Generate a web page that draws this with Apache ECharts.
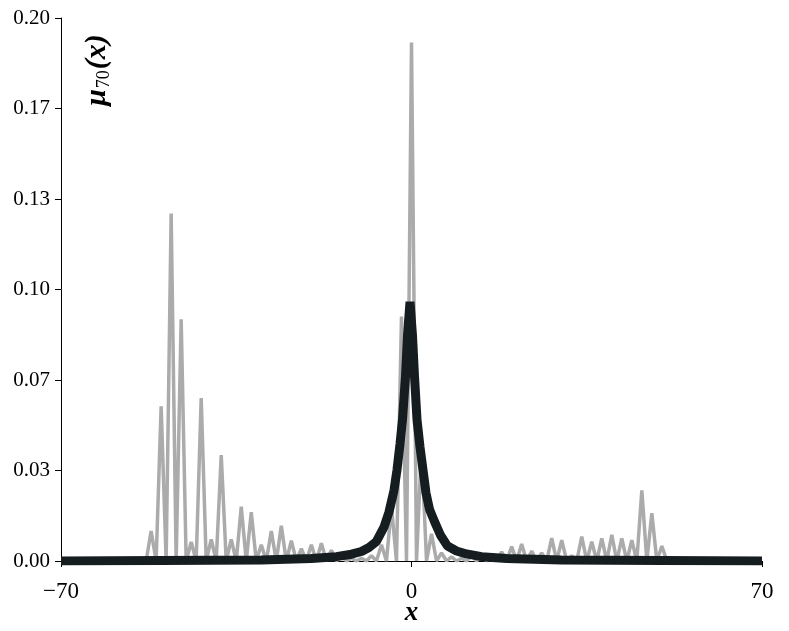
<!DOCTYPE html>
<html>
<head>
<meta charset="utf-8">
<script src="https://cdn.jsdelivr.net/npm/echarts@6/dist/echarts.min.js"></script>
<style>
  html, body { margin: 0; padding: 0; background: #fff; }
  #chart { width: 789px; height: 631px; }
</style>
</head>
<body>
<div id="chart"></div>
<script>
// gray spiky distribution, read at even sites (odd sites are zero)
const graySites = [-54, -52, -50, -48, -46, -44, -42, -40, -38, -36, -34, -32, -30, -28, -26, -24, -22, -20, -18, -16, -14, -12, -10, -8, -6, -4, -2,
  0, 2, 4, 6, 8, 10, 12, 14, 16, 18, 20, 22, 24, 26, 28, 30, 32, 34, 36, 38, 40, 42, 44, 46, 48, 50, 52];
const grayValues = [0, 0.011, 0.057, 0.128, 0.089, 0.007, 0.060, 0.008, 0.039, 0.008, 0.020, 0.018, 0.006, 0.011, 0.013, 0.0075, 0.0045, 0.006, 0.0065, 0.004, 0.002, 0.001, 0.001, 0.002, 0.006, 0.020, 0.090,
  0.191, 0.042, 0.010, 0.003, 0.0015, 0.001, 0.002, 0.002, 0.002, 0.0034, 0.0053, 0.0063, 0.0037, 0.003, 0.0084, 0.0077, 0.002, 0.009, 0.0071, 0.0083, 0.0096, 0.0083, 0.0077, 0.026, 0.0176, 0.0055, 0];

// black smooth curve
const blackX = [-70, -50, -30, -20, -15, -12, -10, -8.5, -7, -5.5, -4.5, -3.5, -2.9, -2.3, -1.8, -1.2, -0.8, -0.3, 0.2, 0.6, 1.1, 1.7, 2.3, 2.9, 3.6, 4.6, 5.8, 7.2, 9, 11, 14, 19, 30, 50, 70];
const blackY = [0, 0.0002, 0.0004, 0.0009, 0.0016, 0.0025, 0.0035, 0.005, 0.0072, 0.0125, 0.018, 0.026, 0.0335, 0.043, 0.052, 0.068, 0.083, 0.0955, 0.083, 0.068, 0.052, 0.042, 0.0335, 0.025, 0.019, 0.0145, 0.0095, 0.0055, 0.0037, 0.0026, 0.0016, 0.0009, 0.0004, 0.0002, 0];

const yTickStep = 0.2 / 6;

// full gray polyline from -70..70, zeros where not listed
const grayData = [];
for (let x = -70; x <= 70; x++) {
  const i = graySites.indexOf(x);
  grayData.push([x, i >= 0 ? grayValues[i] : 0]);
}
const blackData = blackX.map((x, i) => [x, blackY[i]]);

const serif = '"Liberation Serif", "DejaVu Serif", serif';
const chart = echarts.init(document.getElementById('chart'));
chart.setOption({
  animation: false,
  grid: { left: 61, right: 27, top: 18, bottom: 70, outerBoundsMode: 'none', containLabel: false },
  xAxis: {
    type: 'value',
    min: -70, max: 70, interval: 70,
    splitLine: { show: false },
    axisLine: { onZero: false, lineStyle: { color: '#000', width: 1 } },
    axisTick: { length: 6, lineStyle: { color: '#000' } },
    axisLabel: {
      margin: 19, color: '#000', fontFamily: serif, fontSize: 23,
      formatter: v => v < 0 ? '\u2212' + Math.abs(v) : String(v)
    },
    name: 'x', nameLocation: 'middle', nameGap: 39, nameMoveOverlap: false,
    nameTextStyle: { fontFamily: serif, fontSize: 27, fontWeight: 'bold', fontStyle: 'italic', color: '#000' }
  },
  yAxis: {
    type: 'value',
    min: 0, max: 0.2, interval: yTickStep,
    splitLine: { show: false },
    axisLine: { show: true, onZero: false, lineStyle: { color: '#000', width: 1 } },
    axisTick: { show: true, length: 6, lineStyle: { color: '#000' } },
    axisLabel: {
      margin: 11, color: '#000', fontFamily: serif, fontSize: 21,
      formatter: v => v.toFixed(2)
    }
  },
  graphic: [{
    type: 'text',
    x: 97, y: 70,
    rotation: Math.PI / 2,
    style: {
      text: '{m|\u03bc}{s|70}{m|(}{i|x}{m|)}',
      align: 'center', verticalAlign: 'middle',
      rich: {
        m: { fontFamily: serif, fontSize: 30, fontWeight: 'bold', fontStyle: 'italic', fill: '#000', lineHeight: 32 },
        i: { fontFamily: serif, fontSize: 30, fontWeight: 'bold', fontStyle: 'italic', fill: '#000', lineHeight: 32 },
        s: { fontFamily: serif, fontSize: 18, fill: '#000', verticalAlign: 'bottom', lineHeight: 32, padding: [8, 1, 0, 1] }
      }
    }
  }],
  series: [
    {
      type: 'line', data: grayData, showSymbol: false,
      lineStyle: { color: '#ababab', width: 3.5 }
    },
    {
      type: 'line', data: blackData, showSymbol: false,
      lineStyle: { color: '#151d20', width: 9, cap: 'butt' }
    }
  ]
});
</script>
</body>
</html>
